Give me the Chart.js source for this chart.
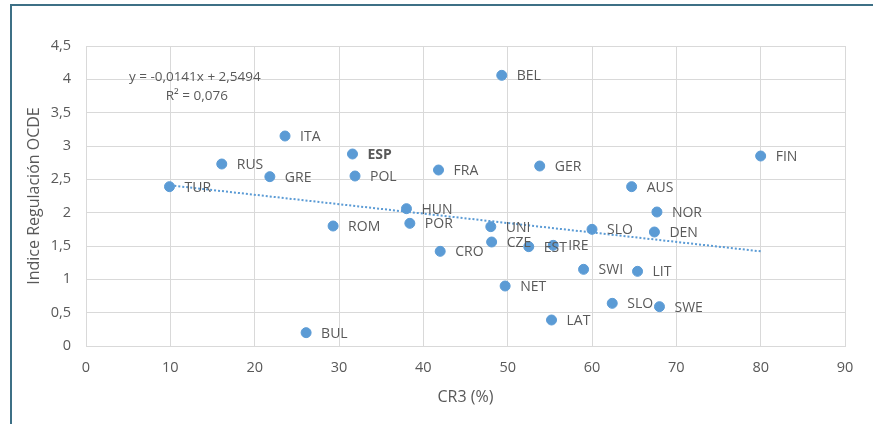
<!DOCTYPE html>
<html>
<head>
<meta charset="utf-8">
<script src="https://cdn.jsdelivr.net/npm/chart.js@4/dist/chart.umd.min.js"></script>
<style>
  body { margin: 0; background: #fff; }
  #wrap { position: absolute; left: 0; top: 0; width: 873px; height: 424px; }
  #frame { position: absolute; left: 10px; top: 4px; width: 900px; height: 500px;
           border-top: 2px solid #3d7086; border-left: 2px solid #3d7086; pointer-events: none; }
</style>
</head>
<body>
<div id="wrap"><canvas id="myChart"></canvas></div>
<div id="frame"></div>
<script>
// countries, concentration CR3 (%) and OECD regulation index
const countries = ['TUR', 'RUS', 'GRE', 'ITA', 'ESP', 'POL', 'ROM', 'HUN', 'POR', 'BUL',
                   'FRA', 'CRO', 'BEL', 'UNI', 'CZE', 'NET', 'EST', 'GER', 'IRE', 'LAT',
                   'SWI', 'SLO', 'SLO', 'AUS', 'LIT', 'DEN', 'NOR', 'SWE', 'FIN'];
const cr3 = [9.9, 16.1, 21.8, 23.6, 31.6, 31.9, 29.3, 38.0, 38.4, 26.1,
             41.8, 42.0, 49.3, 48.0, 48.1, 49.7, 52.5, 53.8, 55.4, 55.2,
             59.0, 60.0, 62.4, 64.7, 65.4, 67.4, 67.7, 68.0, 80.0];
const ocde = [2.39, 2.73, 2.54, 3.15, 2.88, 2.55, 1.80, 2.06, 1.84, 0.20,
              2.64, 1.42, 4.06, 1.79, 1.56, 0.90, 1.49, 2.70, 1.51, 0.39,
              1.15, 1.75, 0.64, 2.39, 1.12, 1.71, 2.01, 0.59, 2.85];

// linear trend (ends)
const trendX = [10, 80];
const trendY = [2.41, 1.42];
const eqLines = ['y = -0,0141x + 2,5494', 'R\u00b2 = 0,076'];

const xTicks = [0, 10, 20, 30, 40, 50, 60, 70, 80, 90];
const yTicks = [0, 0.5, 1, 1.5, 2, 2.5, 3, 3.5, 4, 4.5];

const blue = '#5b9bd5'
const grey = '#595959'
const gridCol = '#d9d9d9'
const fam = '"Open Sans"'

const labelPlugin = {
    id: 'pointLabels',
    afterDatasetsDraw(chart) {
        const ctx = chart.ctx
        const meta = chart.getDatasetMeta(1)
        ctx.save()
        ctx.fillStyle = grey
        ctx.textBaseline = 'middle'
        ctx.textAlign = 'left'
        meta.data.forEach((pt, i) => {
            ctx.font = (countries[i] == 'ESP' ? 'bold ' : '') + '14px ' + fam
            ctx.fillText(countries[i], pt.x + 15, pt.y + 1)
        })
        // regression equation
        ctx.font = '13.5px ' + fam
        ctx.textAlign = 'center'
        const ex = chart.scales.x.getPixelForValue(12.9)
        ctx.fillText(eqLines[0], ex, chart.scales.y.getPixelForValue(4.03))
        ctx.fillText(eqLines[1], ex + 2, chart.scales.y.getPixelForValue(3.75))
        ctx.restore()
    }
}

const fmt = v => String(v).replace('.', ',')

var chart = new Chart('myChart', {
    type: 'scatter',
    data: {
        datasets: [
            {
                type: 'line',
                data: trendX.map((x, i) => ({ x: x, y: trendY[i] })),
                borderColor: blue,
                borderWidth: 2,
                borderDash: [2, 2],
                pointRadius: 0,
                fill: false,
                order: 0
            },
            {
                data: cr3.map((x, i) => ({ x: x, y: ocde[i] })),
                backgroundColor: blue,
                borderColor: blue,
                pointRadius: 5,
                order: 1
            }
        ]
    },
    options: {
        animation: false,
        responsive: true,
        maintainAspectRatio: false,
        layout: { padding: { left: 0, top: 46, right: 28, bottom: 0 } },
        plugins: { legend: { display: false }, tooltip: { enabled: false } },
        scales: {
            x: {
                type: 'linear',
                min: 0, max: 90,
                afterFit: s => { s.height = 78 },
                afterBuildTicks: s => { s.ticks = xTicks.map(v => ({ value: v })) },
                grid: { color: gridCol, drawTicks: false },
                border: { color: gridCol },
                ticks: { color: grey, padding: 13, font: { family: fam, size: 14.5 }, callback: fmt },
                title: { display: true, text: 'CR3 (%)', color: grey,
                         font: { family: fam, size: 16 }, padding: { bottom: 17 } }
            },
            y: {
                type: 'linear',
                min: 0, max: 4.5,
                afterFit: s => { s.width = 86 },
                afterBuildTicks: s => { s.ticks = yTicks.map(v => ({ value: v })) },
                grid: { color: gridCol, drawTicks: false },
                border: { color: gridCol },
                ticks: { color: grey, padding: 15, font: { family: fam, size: 14.5 }, callback: fmt },
                title: { display: true, text: 'Indice Regulación OCDE', color: grey,
                         font: { family: fam, size: 16 }, padding: { top: 25 } }
            }
        }
    },
    plugins: [labelPlugin]
});
</script>
</body>
</html>
